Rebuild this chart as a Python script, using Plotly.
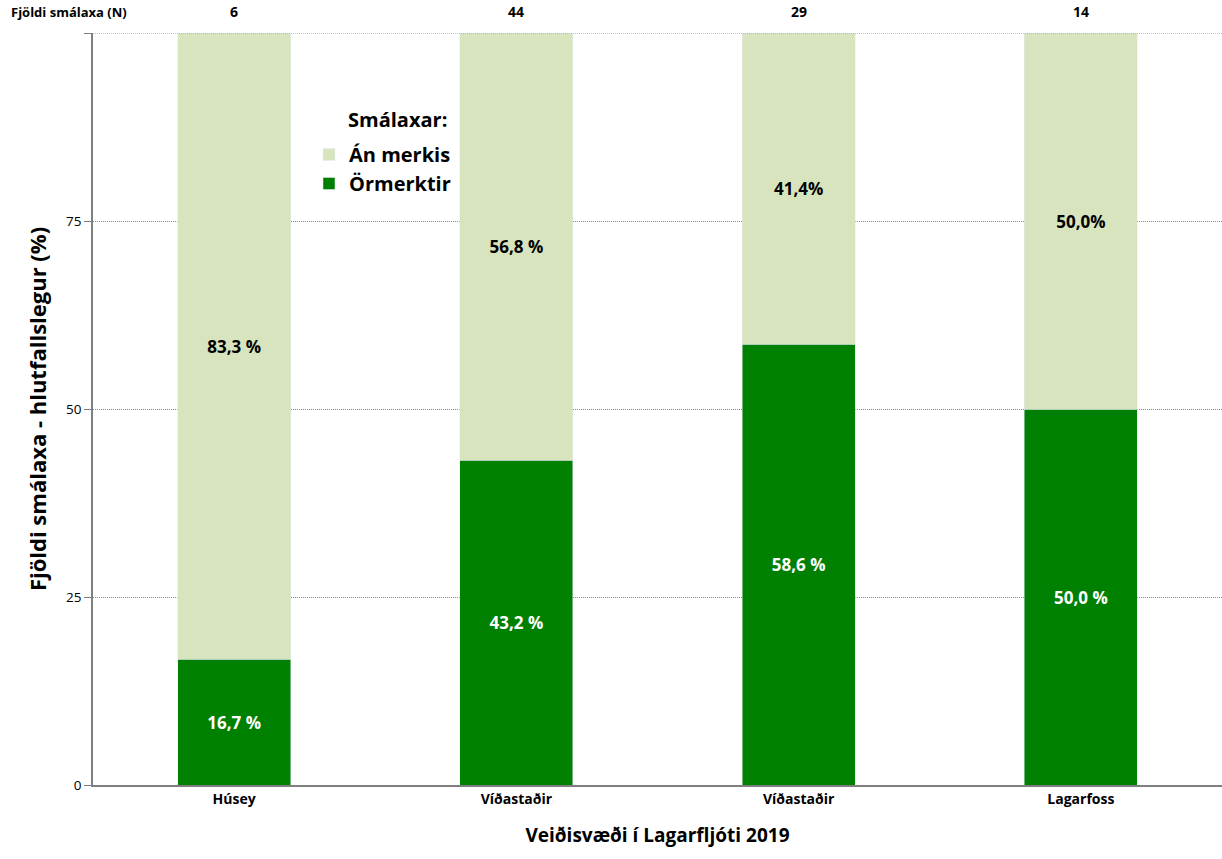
import plotly.graph_objects as go

sites = ["Húsey", "Víðastaðir", "Víðastaðir", "Lagarfoss"]
n_fish = [6, 44, 29, 14]
tagged = [16.7, 43.2, 58.6, 50.0]
untagged = [83.3, 56.8, 41.4, 50.0]
tagged_text = ["16,7 %", "43,2 %", "58,6 %", "50,0 %"]
untagged_text = ["83,3 %", "56,8 %", "41,4%", "50,0%"]
ytick_vals = [0, 25, 50, 75, 100]
ytick_text = ["0", "25", "50", "75", ""]

FONT = "Open Sans, Calibri, sans-serif"
xs = list(range(len(sites)))

fig = go.Figure()
fig.add_trace(go.Bar(
    x=xs, y=tagged, name="<b>Örmerktir</b>", marker_color="#008000", width=0.4,
    legendgroup="a", legendrank=2,
    text=[f"<b>{t}</b>" for t in tagged_text], textposition="inside", insidetextanchor="middle",
    textfont=dict(family=FONT, size=17, color="white"), textangle=0,
))
fig.add_trace(go.Bar(
    x=xs, y=untagged, name="<b>Án merkis</b>", marker_color="#D7E4BD", width=0.4,
    legendgroup="b", legendrank=1,
    text=[f"<b>{t}</b>" for t in untagged_text], textposition="inside", insidetextanchor="middle",
    textfont=dict(family=FONT, size=17, color="black"), textangle=0,
))

for x, n in zip(xs, n_fish):
    fig.add_annotation(x=x, y=1, xref="x", yref="paper", yanchor="bottom", yshift=10,
                       text=f"<b>{n}</b>", showarrow=False,
                       font=dict(family=FONT, size=14, color="black"))
fig.add_annotation(x=-0.074, y=1, xref="paper", yref="paper", xanchor="left", yanchor="bottom",
                   yshift=10, text="<b>Fjöldi smálaxa (N)</b>", showarrow=False,
                   font=dict(family=FONT, size=13, color="black"))
fig.add_annotation(x=(346 - 93) / 1129, y=(785 - 119) / 752, xref="paper", yref="paper",
                   xanchor="left", yanchor="middle", text="<b>Smálaxar:</b>", showarrow=False,
                   font=dict(family=FONT, size=20, color="black"))

fig.add_shape(type="line", xref="paper", yref="y", x0=0, x1=1, y0=100, y1=100,
              line=dict(color="#888888", width=1, dash="1px,1px"))

fig.update_layout(
    width=1222, height=859,
    margin=dict(l=93, r=0, t=33, b=74, autoexpand=False),
    barmode="stack",
    plot_bgcolor="white", paper_bgcolor="white",
    showlegend=True,
    legend=dict(
        x=(309 - 93) / 1129, y=(785 - 135) / 752, xanchor="left", yanchor="top",
        traceorder="grouped", tracegroupgap=0,
        font=dict(family=FONT, size=20, color="black"),
        bgcolor="rgba(0,0,0,0)", itemwidth=30,
    ),
    font=dict(family=FONT, color="black"),
    xaxis=dict(
        range=[-0.5, 3.5], tickvals=xs, ticktext=[f"<b>{s}</b>" for s in sites],
        tickfont=dict(family=FONT, size=14, color="black"),
        showline=True, linecolor="#7f7f7f", linewidth=1.5, ticks="", showgrid=False,
        title=dict(text="<b>Veiðisvæði í Lagarfljóti 2019</b>",
                   font=dict(family=FONT, size=19, color="black"), standoff=22),
        zeroline=False,
    ),
    yaxis=dict(
        range=[0, 100], tickvals=ytick_vals, ticktext=ytick_text,
        tickfont=dict(family=FONT, size=13.5, color="black"),
        showline=True, linecolor="#7f7f7f", linewidth=1.5,
        ticks="outside", ticklen=7, tickcolor="#7f7f7f",
        showgrid=True, gridcolor="#888888", griddash="1px,1px", gridwidth=1,
        zeroline=False,
        title=dict(text="<b>Fjöldi smálaxa - hlutfallslegur (%)</b>",
                   font=dict(family=FONT, size=22, color="black"), standoff=13),
    ),
)

fig.write_html("out.html")
